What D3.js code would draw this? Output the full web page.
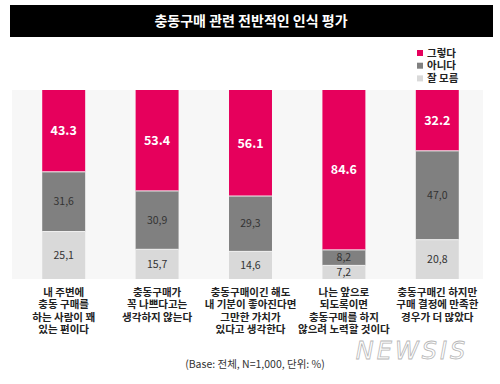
<!DOCTYPE html>
<html>
<head>
<meta charset="utf-8">
<script src="https://cdn.jsdelivr.net/npm/d3@7"></script>
<style>
  body { margin: 0; background: #fff; }
  svg { display: block; font-family: "Noto Sans CJK KR", "Noto Sans", sans-serif; }
</style>
</head>
<body>
<div id="chart"></div>
<script>
// 데이터
const categories = [
  ["내 주변에", "충동 구매를", "하는 사람이 꽤", "있는 편이다"],
  ["충동구매가", "꼭 나쁘다고는", "생각하지 않는다"],
  ["충동구매이긴 해도", "내 기분이 좋아진다면", "그만한 가치가", "있다고 생각한다"],
  ["나는 앞으로", "되도록이면", "충동구매를 하지", "않으려 노력할 것이다"],
  ["충동구매긴 하지만", "구매 결정에 만족한", "경우가 더 많았다"]
];
const seriesNames = ["그렇다", "아니다", "잘 모름"];
const yes = [43.3, 53.4, 56.1, 84.6, 32.2];
const no = [31.6, 30.9, 29.3, 8.2, 47.0];
const dunno = [25.1, 15.7, 14.6, 7.2, 20.8];

const width = 500, height = 384;
const colors = ["#e6005c", "#808080", "#d9d9d9"];

const svg = d3.select("#chart").append("svg")
  .attr("width", width).attr("height", height);

// 제목 바
svg.append("rect").attr("x", 10).attr("y", 5).attr("width", 483).attr("height", 32).attr("fill", "#000");
svg.append("text").attr("x", 251).attr("y", 26).attr("text-anchor", "middle")
  .attr("fill", "#fff").style("font-size", "14px").style("font-weight", "bold")
  .text("충동구매 관련 전반적인 인식 평가");

// 배경
svg.append("rect").attr("x", 12).attr("y", 90).attr("width", 471).attr("height", 189).attr("fill", "#f7f7f7");

const x = d3.scaleBand().domain(d3.range(categories.length)).range([17, 484]).paddingInner(0.54).paddingOuter(0.27);
const y = d3.scaleLinear().domain([0, 100]).range([279, 90]);

// 스택 데이터
const rows = categories.map((c, i) => ({ i: i, yes: yes[i], no: no[i], dunno: dunno[i] }));
const stack = d3.stack().keys(["dunno", "no", "yes"]);
const layers = stack(rows);
const colorOf = { yes: colors[0], no: colors[1], dunno: colors[2] };

const g = svg.append("g");
layers.forEach(layer => {
  g.selectAll(".bar-" + layer.key)
    .data(layer)
    .enter()
    .append("rect")
    .attr("x", d => x(d.data.i))
    .attr("width", x.bandwidth())
    .attr("y", d => y(d[1]))
    .attr("height", d => y(d[0]) - y(d[1]))
    .attr("fill", colorOf[layer.key]);

  g.selectAll(".lab-" + layer.key)
    .data(layer)
    .enter()
    .append("text")
    .attr("x", d => x(d.data.i) + x.bandwidth() / 2)
    .attr("y", d => (y(d[0]) + y(d[1])) / 2)
    .attr("dy", "0.36em")
    .attr("text-anchor", "middle")
    .attr("fill", layer.key === "yes" ? "#fff" : "#333")
    .style("font-size", layer.key === "yes" ? "12.5px" : "10.5px")
    .style("font-weight", layer.key === "yes" ? "bold" : "normal")
    .text(d => d.data[layer.key].toFixed(1).replace(".", layer.key === "yes" ? "." : ","));
});

// 구분선
layers.slice(0, 2).forEach(layer => {
  g.selectAll(".sep-" + layer.key)
    .data(layer)
    .enter()
    .append("line")
    .attr("x1", d => x(d.data.i))
    .attr("x2", d => x(d.data.i) + x.bandwidth())
    .attr("y1", d => y(d[1]))
    .attr("y2", d => y(d[1]))
    .attr("stroke", "#f2f2f2")
    .attr("stroke-width", 1);
});

// 카테고리 라벨 (줄마다 따로)
categories.forEach((lines, i) => {
  lines.forEach((l, k) => {
    svg.append("text")
      .attr("x", x(i) + x.bandwidth() / 2)
      .attr("y", 295.5 + k * 12.5)
      .attr("text-anchor", "middle")
      .attr("fill", "#222")
      .style("font-size", "10.5px")
      .style("font-weight", "bold")
      .text(l);
  });
});

// 범례
const legend = svg.selectAll(".legend")
  .data(seriesNames)
  .enter()
  .append("g")
  .attr("transform", (d, i) => "translate(417," + (53 + i * 12.7) + ")");
legend.append("rect").attr("x", 0).attr("y", -3).attr("width", 6).attr("height", 6)
  .attr("fill", (d, i) => colors[i]);
legend.append("text").attr("x", 10).attr("y", 0).attr("dy", "0.36em")
  .attr("fill", "#222").style("font-size", "10.5px").style("font-weight", "bold")
  .text(d => d);

// 주석
svg.append("text").attr("x", 255).attr("y", 368).attr("text-anchor", "middle")
  .attr("fill", "#333").style("font-size", "10.5px")
  .text("(Base: 전체, N=1,000, 단위: %)");

// 워터마크
svg.append("text").attr("x", 412).attr("y", 359).attr("text-anchor", "middle")
  .attr("fill", "#fff").attr("stroke", "#b8b8b8").attr("stroke-width", 0.8)
  .style("font-family", "'DejaVu Sans'").style("font-size", "24px").style("font-style", "italic")
  .style("letter-spacing", "3px")
  .text("NEWSIS");
</script>
</body>
</html>
